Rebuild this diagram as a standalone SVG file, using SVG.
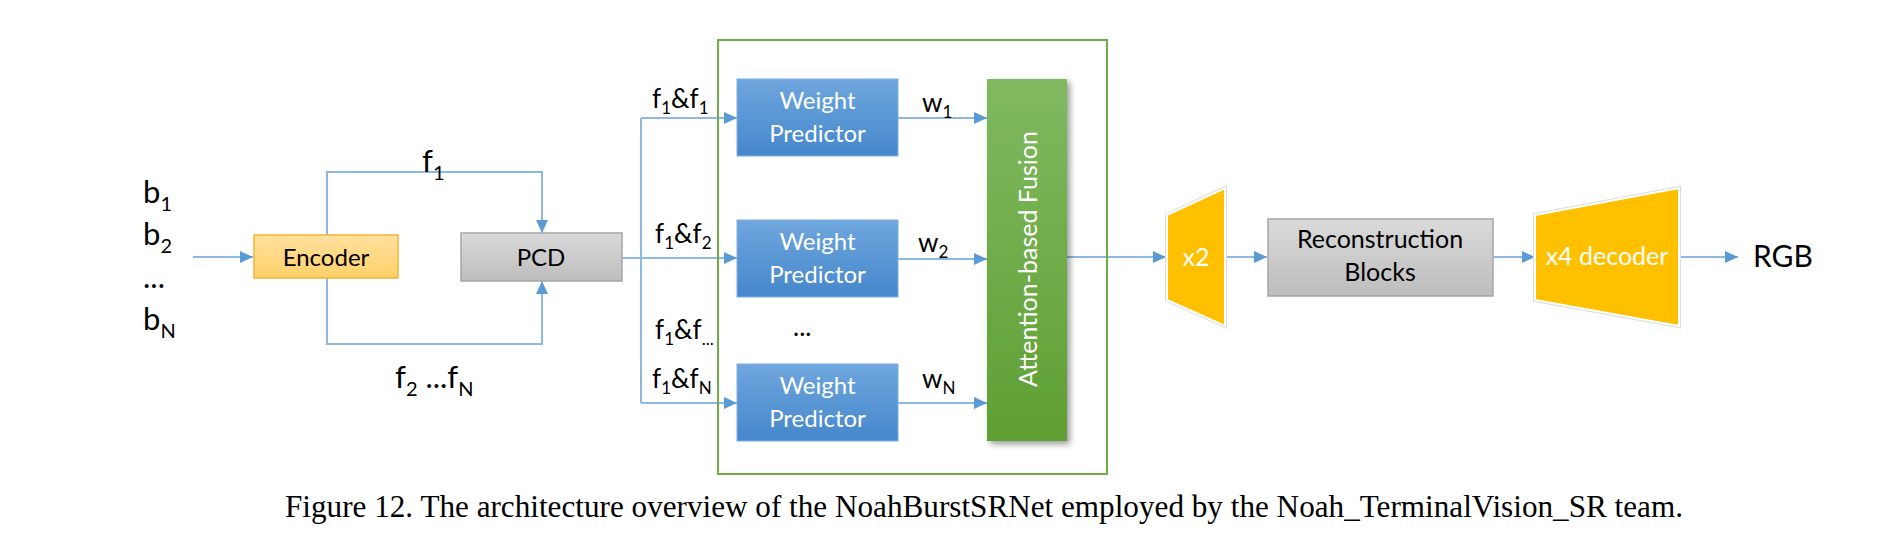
<svg xmlns="http://www.w3.org/2000/svg" width="1900" height="547" viewBox="0 0 1900 547">
<style>
.t{font-family:Lato,"Open Sans","Liberation Sans",sans-serif;fill:#000}
.w{font-family:Lato,"Open Sans","Liberation Sans",sans-serif;fill:#fff}
.c{fill:none;stroke:#8fb8e0;stroke-width:2;marker-end:url(#ah)}
.l{fill:none;stroke:#8fb8e0;stroke-width:2}
.cap{font-family:"Liberation Serif","Times New Roman",serif;fill:#000}
</style>
<defs>
<marker id="ah" markerUnits="userSpaceOnUse" markerWidth="14" markerHeight="12" refX="13" refY="6" orient="auto">
<path d="M0,0 L13,6 L0,12 z" fill="#5b9bd5"/>
</marker>
<linearGradient id="gBlue" x1="0" y1="0" x2="0" y2="1">
<stop offset="0" stop-color="#6fa6dd"/><stop offset="1" stop-color="#4587cc"/>
</linearGradient>
<linearGradient id="gGreen" x1="0" y1="0" x2="0" y2="1">
<stop offset="0" stop-color="#80b960"/><stop offset="1" stop-color="#5f9f33"/>
</linearGradient>
<linearGradient id="gGray" x1="0" y1="0" x2="0" y2="1">
<stop offset="0" stop-color="#dadada"/><stop offset="1" stop-color="#bdbdbd"/>
</linearGradient>
<linearGradient id="gOrange" x1="0" y1="0" x2="0" y2="1">
<stop offset="0" stop-color="#ffe09e"/><stop offset="1" stop-color="#ffd16a"/>
</linearGradient>
<filter id="sh" x="-20%" y="-5%" width="150%" height="115%">
<feDropShadow dx="3" dy="3" stdDeviation="3" flood-color="#000" flood-opacity="0.4"/>
</filter>
</defs>

<g id="inputs">
<text class="t" x="143" y="203" font-size="31">b<tspan font-size="20" dy="8">1</tspan></text>
<text class="t" x="143" y="245" font-size="31">b<tspan font-size="20" dy="8">2</tspan></text>
<text class="t" x="143" y="288" font-size="31">...</text>
<text class="t" x="143" y="330" font-size="31">b<tspan font-size="20" dy="8">N</tspan></text>
</g>

<g id="connectors">
<path class="c" d="M193 257 H253"/>
<path class="c" d="M327 235 V172 H542 V233"/>
<path class="c" d="M327 278 V344 H542 V281"/>
<path class="c" d="M622 258 H737"/>
<path class="l" d="M641 118 V403"/>
<path class="c" d="M641 118 H737"/>
<path class="c" d="M641 403 H737"/>
<path class="c" d="M898 118 H987"/>
<path class="c" d="M898 259 H987"/>
<path class="c" d="M898 403 H987"/>
<path class="c" d="M1067 257 H1166"/>
<path class="c" d="M1226 257 H1267"/>
<path class="c" d="M1493 257 H1535"/>
<path class="c" d="M1680 257 H1738"/>
<text class="t" x="422" y="172" font-size="31">f<tspan font-size="20" dy="8">1</tspan></text>
<text class="t" x="395" y="388" font-size="31">f<tspan font-size="20" dy="8">2</tspan><tspan dy="-8"> ...f</tspan><tspan font-size="20" dy="8">N</tspan></text>
<text class="t" x="652" y="108" font-size="26">f<tspan font-size="17" dy="6">1</tspan><tspan dy="-6">&amp;f</tspan><tspan font-size="17" dy="6">1</tspan></text>
<text class="t" x="655" y="243" font-size="26">f<tspan font-size="17" dy="6">1</tspan><tspan dy="-6">&amp;f</tspan><tspan font-size="17" dy="6">2</tspan></text>
<text class="t" x="655" y="339" font-size="26">f<tspan font-size="17" dy="6">1</tspan><tspan dy="-6">&amp;f</tspan><tspan font-size="17" dy="6">...</tspan></text>
<text class="t" x="652" y="388" font-size="26">f<tspan font-size="17" dy="6">1</tspan><tspan dy="-6">&amp;f</tspan><tspan font-size="17" dy="6">N</tspan></text>
<text class="t" x="922" y="112" font-size="26">w<tspan font-size="17" dy="6">1</tspan></text>
<text class="t" x="918" y="252" font-size="26">w<tspan font-size="17" dy="6">2</tspan></text>
<text class="t" x="922" y="388" font-size="26">w<tspan font-size="17" dy="6">N</tspan></text>
<text class="t" x="793" y="336" font-size="26">...</text>
</g>

<g id="encoder">
<rect x="254" y="235" width="144" height="43" fill="url(#gOrange)" stroke="#f2b43a" stroke-width="1.5"/>
<text class="t" x="326" y="266" font-size="24" text-anchor="middle">Encoder</text>
</g>

<g id="pcd">
<rect x="461" y="233" width="161" height="48" fill="url(#gGray)" stroke="#a6a6a6" stroke-width="1.5"/>
<text class="t" x="541" y="266" font-size="24" text-anchor="middle">PCD</text>
</g>

<g id="fusion-module">
<rect x="718" y="40" width="389" height="434" fill="none" stroke="#70ad47" stroke-width="2"/>
</g>

<g id="wp1">
<rect x="737" y="79" width="161" height="77" fill="url(#gBlue)" stroke="#7fb0e0" stroke-width="1"/>
<text class="w" x="817.5" y="109" font-size="24" text-anchor="middle">Weight</text>
<text class="w" x="817.5" y="142" font-size="24" text-anchor="middle">Predictor</text>
</g>
<g id="wp2">
<rect x="737" y="220" width="161" height="77" fill="url(#gBlue)" stroke="#7fb0e0" stroke-width="1"/>
<text class="w" x="817.5" y="250" font-size="24" text-anchor="middle">Weight</text>
<text class="w" x="817.5" y="283" font-size="24" text-anchor="middle">Predictor</text>
</g>
<g id="wpN">
<rect x="737" y="364" width="161" height="77" fill="url(#gBlue)" stroke="#7fb0e0" stroke-width="1"/>
<text class="w" x="817.5" y="394" font-size="24" text-anchor="middle">Weight</text>
<text class="w" x="817.5" y="427" font-size="24" text-anchor="middle">Predictor</text>
</g>

<g id="attention-fusion">
<rect x="987" y="79" width="80" height="362" fill="url(#gGreen)" filter="url(#sh)"/>
<text class="w" transform="translate(1027 259) rotate(-90)" x="0" y="10" font-size="25" text-anchor="middle">Attention-based Fusion</text>
</g>

<g id="x2">
<polygon points="1167,215 1225,188 1225,326 1167,300" fill="#ffc000" stroke="#dcdcdc" stroke-width="4"/>
<polygon points="1167,215 1225,188 1225,326 1167,300" fill="#ffc000" stroke="#ffffff" stroke-width="2"/>
<text class="w" x="1196" y="266" font-size="25" text-anchor="middle">x2</text>
</g>

<g id="reconstruction">
<rect x="1268" y="219" width="225" height="77" fill="url(#gGray)" stroke="#a6a6a6" stroke-width="1.5"/>
<text class="t" x="1380" y="248" font-size="25" text-anchor="middle">Reconstruction</text>
<text class="t" x="1380" y="281" font-size="25" text-anchor="middle">Blocks</text>
</g>

<g id="x4-decoder">
<polygon points="1535,215 1679,188 1679,326 1535,300" fill="#ffc000" stroke="#dcdcdc" stroke-width="4"/>
<polygon points="1535,215 1679,188 1679,326 1535,300" fill="#ffc000" stroke="#ffffff" stroke-width="2"/>
<text class="w" x="1607" y="265" font-size="25" text-anchor="middle">x4 decoder</text>
</g>

<g id="rgb">
<text class="t" x="1753" y="267" font-size="30">RGB</text>
</g>

<text class="cap" x="984" y="517" font-size="31.3" text-anchor="middle" textLength="1398" lengthAdjust="spacingAndGlyphs">Figure 12. The architecture overview of the NoahBurstSRNet employed by the Noah_TerminalVision_SR team.</text>
</svg>
